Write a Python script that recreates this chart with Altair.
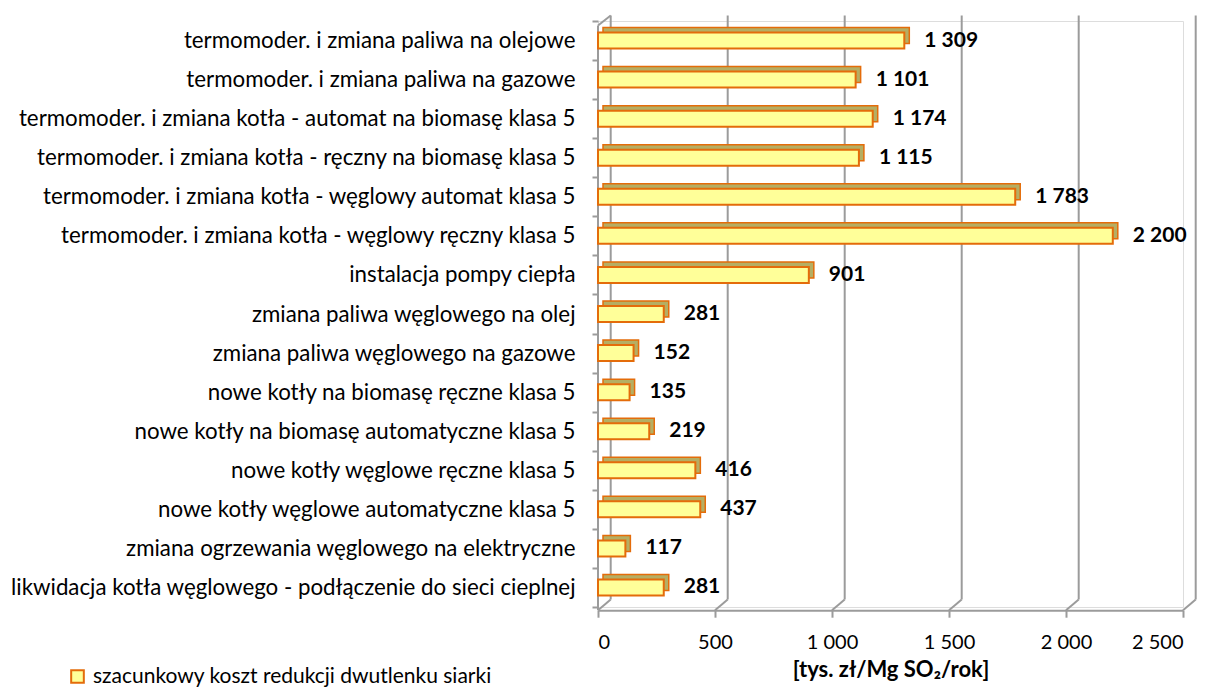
import altair as alt
import pandas as pd

categories = [
    "termomoder. i zmiana paliwa na olejowe",
    "termomoder. i zmiana paliwa na gazowe",
    "termomoder. i zmiana kotła - automat na biomasę klasa 5",
    "termomoder. i zmiana kotła - ręczny na biomasę klasa 5",
    "termomoder. i zmiana kotła - węglowy automat klasa 5",
    "termomoder. i zmiana kotła - węglowy ręczny klasa 5",
    "instalacja pompy ciepła",
    "zmiana paliwa węglowego na olej",
    "zmiana paliwa węglowego na gazowe",
    "nowe kotły na biomasę ręczne klasa 5",
    "nowe kotły na biomasę automatyczne klasa 5",
    "nowe kotły węglowe ręczne klasa 5",
    "nowe kotły węglowe automatyczne klasa 5",
    "zmiana ogrzewania węglowego na elektryczne",
    "likwidacja kotła węglowego - podłączenie do sieci cieplnej",
]
values = [1309, 1101, 1174, 1115, 1783, 2200, 901, 281, 152, 135, 219, 416, 437, 117, 281]
series_name = "szacunkowy koszt redukcji dwutlenku siarki"
x_ticks = [0, 500, 1000, 1500, 2000, 2500]
axis_title = "[tys. zł/Mg SO₂/rok]"

FONT = "Lato"
GRAY = "#9B9B9B"
ORANGE = "#E46C0A"
W, H = 585, 586

df = pd.DataFrame({
    "cat": categories,
    "value": values,
    "label": [f"{v:,}".replace(",", " ") for v in values],
    "series": [series_name] * len(values),
})
grid_df = pd.DataFrame({"value": x_ticks})

xs = alt.Scale(domain=[0, 2500], nice=False, zero=True)
ys = alt.Scale(domain=categories, paddingInner=0, paddingOuter=0)

x_axis = alt.Axis(values=x_ticks, title=axis_title, offset=3.2,
                  labelExpr="replace(format(datum.value, ','), ',', ' ')",
                  domainColor=GRAY, domainWidth=2, tickColor=GRAY, tickWidth=2,
                  tickSize=7, grid=False, labelFont=FONT, labelFontSize=20,
                  labelColor="#000000", labelPadding=15,
                  titleFont=FONT, titleFontSize=22, titleFontWeight="bold",
                  titleColor="#000000", titleAnchor="middle", titleAlign="center",
                  titleY=49)
y_axis = alt.Axis(title=None, domain=False, ticks=True, tickBand="extent",
                  tickSize=6, tickColor=GRAY, tickWidth=2, labelPadding=17,
                  labelFont=FONT, labelFontSize=22.3, labelColor="#000000",
                  labelLimit=700)

X = alt.X("value:Q", scale=xs, axis=x_axis, title=axis_title)
Y = alt.Y("cat:N", scale=ys, sort=categories, axis=y_axis, title=None)

# back-wall gridlines
grid_back = alt.Chart(grid_df).mark_rule(color=GRAY, strokeWidth=2, xOffset=12.7).encode(
    x=X, y=alt.value(-5.5), y2=alt.value(578.5),
)
# floor diagonals
grid_diag = alt.Chart(grid_df).mark_rule(color=GRAY, strokeWidth=2, xOffset=12.7, x2Offset=0).encode(
    x=X, x2="value:Q", y=alt.value(578.5), y2=alt.value(589.2),
)
left_front = alt.Chart(grid_df.head(1)).mark_rule(color=GRAY, strokeWidth=2).encode(
    x=X, y=alt.value(4.5), y2=alt.value(589.2),
)
left_top = alt.Chart(grid_df.head(1)).mark_rule(color=GRAY, strokeWidth=2, x2Offset=12.7).encode(
    x=X, x2="value:Q", y=alt.value(4.5), y2=alt.value(-5.5),
)

base = alt.Chart(df)

back_face = base.mark_bar(
    size=16, fill="#B5AE63", stroke=ORANGE, strokeWidth=1.5,
    xOffset=5, x2Offset=5, yOffset=-5,
).encode(y=Y, x=X, x2=alt.datum(0))

front_face = base.mark_bar(size=16, stroke=ORANGE, strokeWidth=2).encode(
    y=Y, x=X,
    color=alt.Color("series:N", scale=alt.Scale(range=["#FFFF99"]),
                    legend=alt.Legend(title=None, orient="none", legendX=-531, legendY=645,
                                      symbolType="square", symbolSize=160,
                                      symbolStrokeColor=ORANGE, symbolStrokeWidth=2,
                                      labelFont=FONT, labelFontSize=21, labelColor="#000000",
                                      labelLimit=700, labelOffset=5)),
)

labels = base.mark_text(align="left", baseline="middle", dx=20, dy=0,
                        font=FONT, fontSize=21, fontWeight="bold", color="#000000").encode(
    y=Y, x=X, text="label:N",
)

chart = alt.layer(grid_back, grid_diag, left_front, left_top, back_face, front_face, labels).properties(
    width=W, height=H,
    autosize=alt.AutoSizeParams(type="none"),
    padding={"left": 590, "top": 13, "right": 27, "bottom": 80},
).configure_view(stroke=None).configure(background="white")

chart.save("out.html", embed_options={"renderer": "svg", "actions": False})
